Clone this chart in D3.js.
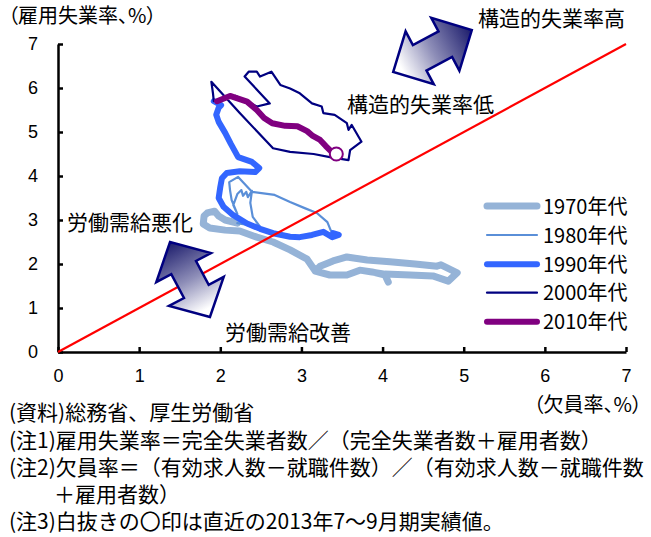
<!DOCTYPE html>
<html><head><meta charset="utf-8">
<script src="https://cdn.jsdelivr.net/npm/d3@7"></script>
<style>
body{margin:0;background:#fff}
svg{display:block}
text{font-family:"Noto Sans CJK JP","Noto Sans",sans-serif;fill:#000}
.palt{font-feature-settings:"palt"}
</style></head><body>
<svg id="chart" width="651" height="537"></svg>
<script>
// Beveridge curve: vacancy rate (x) vs. employee unemployment rate (y), by decade
const decadeNames = ["1970年代", "1980年代", "1990年代", "2000年代", "2010年代"];

const vac1970 = [4.07,4.03,3.87,3.72,3.56,3.35,3.17,3.23,3.39,3.56,3.81,4.09,4.40,4.67,4.72,4.92,4.81,4.62,4.34,4.03,3.72,3.56,3.35,3.17,3.07,2.86,2.65,2.45,2.24,2.06,1.87,1.79,1.80,1.84,1.93,1.98,2.06,2.21];
const un1970  = [1.59,1.75,1.82,1.86,1.75,1.75,1.84,1.95,2.07,2.16,2.09,2.05,2.00,1.95,1.98,1.80,1.61,1.73,1.75,1.77,1.86,1.75,1.75,1.84,2.11,2.32,2.50,2.61,2.75,2.77,2.82,2.91,3.09,3.16,3.20,3.09,3.00,2.93];

const vac1980 = [2.21,2.43,2.51,2.40,2.37,2.39,2.34,2.32,2.28,2.26,2.21,2.16,2.21,2.14,2.12,2.11,2.22,2.39,2.67,2.86,3.04,3.19,3.32,3.36,3.39];
const un1980  = [2.93,2.86,2.80,3.07,3.39,3.66,3.52,3.64,3.55,3.68,3.59,3.34,3.14,3.45,3.68,3.86,3.98,3.64,3.57,3.41,3.27,3.16,2.95,2.77,2.70];

const vac1990 = [3.39,3.46,3.38,3.27,3.13,2.98,2.86,2.65,2.49,2.33,2.16,2.04,1.98,2.00,2.02,2.08,2.24,2.43,2.48,2.39,2.22,2.13,2.06,1.98,1.95,1.98,2.01,1.92];
const un1990  = [2.70,2.66,2.61,2.73,2.66,2.61,2.62,2.70,2.80,2.92,3.11,3.30,3.50,3.75,3.95,4.07,4.11,4.09,4.18,4.32,4.43,4.73,4.98,5.23,5.39,5.55,5.61,5.70];

const vac2000 = [1.92,1.91,1.89,2.24,2.65,2.86,3.15,3.35,3.58,3.60,3.74,3.62,3.58,3.56,3.41,3.27,3.25,3.13,2.98,2.86,2.74,2.63,2.49,2.45,2.35,2.30,2.61,2.45,2.19,1.96];
const un2000  = [5.70,5.88,6.14,5.43,4.63,4.55,4.50,4.43,4.36,4.59,4.78,5.16,5.05,5.20,5.39,5.43,5.58,5.65,5.88,5.99,6.07,6.37,6.26,6.37,6.37,6.26,5.65,5.58,5.82,5.70];

const vac2010 = [1.96,2.12,2.33,2.45,2.54,2.64,2.80,2.95,3.07,3.14,3.23,3.30,3.36,3.43];
const un2010  = [5.70,5.82,5.69,5.50,5.32,5.20,5.14,5.13,5.02,4.91,4.82,4.68,4.57,4.50];

const xTicks = [0,1,2,3,4,5,6,7];
const yTicks = [0,1,2,3,4,5,6,7];

const notes = [
  "(資料)総務省、厚生労働省",
  "(注1)雇用失業率＝完全失業者数／（完全失業者数＋雇用者数）",
  "(注2)欠員率＝（有効求人数－就職件数）／（有効求人数－就職件数",
  "＋雇用者数）",
  "(注3)白抜きの〇印は直近の2013年7～9月期実績値。"
];

const series = [
  {name: decadeNames[0], xs: vac1970, ys: un1970, color: "#95b3d7", width: 7},
  {name: decadeNames[1], xs: vac1980, ys: un1980, color: "#5a8fd8", width: 2.2},
  {name: decadeNames[2], xs: vac1990, ys: un1990, color: "#3366ff", width: 6},
  {name: decadeNames[3], xs: vac2000, ys: un2000, color: "#000080", width: 2.2},
  {name: decadeNames[4], xs: vac2010, ys: un2010, color: "#800080", width: 6}
];

const svg = d3.select("#chart");
const x = d3.scaleLinear().domain([0, 7]).range([58, 626]);
const y = d3.scaleLinear().domain([0, 7]).range([352, 44]);

// axes with inward ticks
const fmt = d3.format("d");
const xAxis = svg.append("g").attr("transform", `translate(0,${y(0)})`)
  .call(d3.axisBottom(x).tickValues(xTicks).tickFormat(fmt).tickSizeInner(-5).tickSizeOuter(0).tickPadding(17));
const yAxis = svg.append("g").attr("transform", `translate(${x(0)},0)`)
  .call(d3.axisLeft(y).tickValues(yTicks).tickFormat(fmt).tickSizeInner(-5).tickSizeOuter(0).tickPadding(20));
[xAxis, yAxis].forEach(g => {
  g.select(".domain").attr("stroke", "#000").attr("stroke-width", 2.5);
  g.selectAll(".tick line").attr("stroke", "#000").attr("stroke-width", 2.5);
  g.selectAll(".tick text").style("font-family", "'Liberation Sans', Arial, sans-serif")
    .style("font-size", "18px").attr("fill", "#000");
});

// decade paths
const line = d3.line().x(d => x(d[0])).y(d => y(d[1]));
series.forEach(s => {
  const pts = s.xs.map((v, i) => [v, s.ys[i]]);
  svg.append("path").attr("d", line(pts))
    .attr("fill", "none").attr("stroke", s.color).attr("stroke-width", s.width)
    .attr("stroke-linejoin", "round").attr("stroke-linecap", "round");
});

// 45-degree reference line
svg.append("line")
  .attr("x1", x(0)).attr("y1", y(0)).attr("x2", x(7)).attr("y2", y(7))
  .attr("stroke", "#ff0000").attr("stroke-width", 2.2);

// latest observation marker
svg.append("circle")
  .attr("cx", x(vac2010[vac2010.length - 1])).attr("cy", y(un2010[un2010.length - 1]))
  .attr("r", 6.5).attr("fill", "#fff").attr("stroke", "#800080").attr("stroke-width", 2);

// double-headed block arrows with navy gradient
const defs = svg.append("defs");
function blockArrow(id, cx, cy, angDeg, total, headLen, headHalf, shaftHalf, darkAtPositive) {
  const a = angDeg * Math.PI / 180, ux = Math.cos(a), uy = Math.sin(a), px = -uy, py = ux;
  const L = total / 2, B = L - headLen;
  const local = [[L,0],[B,headHalf],[B,shaftHalf],[-B,shaftHalf],[-B,headHalf],[-L,0],[-B,-headHalf],[-B,-shaftHalf],[B,-shaftHalf],[B,-headHalf]];
  const pts = local.map(([u, p]) => [cx + u * ux + p * px, cy + u * uy + p * py]);
  const s = darkAtPositive ? 1 : -1;
  const g = defs.append("linearGradient").attr("id", id).attr("gradientUnits", "userSpaceOnUse")
    .attr("x1", cx + s * L * ux).attr("y1", cy + s * L * uy)
    .attr("x2", cx - s * L * ux).attr("y2", cy - s * L * uy);
  g.append("stop").attr("offset", 0).attr("stop-color", "#1c1c6c");
  g.append("stop").attr("offset", 0.5).attr("stop-color", "#8e8eb8");
  g.append("stop").attr("offset", 0.9).attr("stop-color", "#ffffff");
  svg.append("path").attr("d", d3.line()(pts) + "Z")
    .attr("fill", `url(#${id})`).attr("stroke", "#000080").attr("stroke-width", 2.5)
    .attr("stroke-linejoin", "miter");
}
blockArrow("arrUp", 432.5, 51, -28, 89, 30, 30, 14.5, true);
blockArrow("arrLow", 190, 279.5, 62, 85, 29, 31, 14, false);

// annotations
function label(txt, x0, yb, size, anchor, cls) {
  svg.append("text").attr("x", x0).attr("y", yb).attr("text-anchor", anchor || "start")
    .attr("class", cls || null).style("font-size", size + "px").text(txt);
}
label("（雇用失業率、%）", 8, 23, 20, "start", "palt");
label("構造的失業率高", 478, 25.5, 21);
label("構造的失業率低", 347, 112, 21);
label("労働需給悪化", 67, 229.5, 21);
label("労働需給改善", 225, 339.5, 21);
label("（欠員率、%）", 642, 411.5, 20, "end", "palt");

// legend
const legendY = [206, 235, 264.3, 292.7, 321.7];
series.forEach((s, i) => {
  svg.append("line").attr("x1", 487).attr("x2", 537).attr("y1", legendY[i]).attr("y2", legendY[i])
    .attr("stroke", s.color).attr("stroke-width", s.width).attr("stroke-linecap", "round");
  label(s.name, 543, legendY[i] + 7.5, 20);
});

// source and notes
const noteY = [419.5, 447.5, 474.5, 501.5, 528.5];
notes.forEach((t, i) => label(t, i === 3 ? 54 : 9, noteY[i], 21));
</script>
</body></html>
